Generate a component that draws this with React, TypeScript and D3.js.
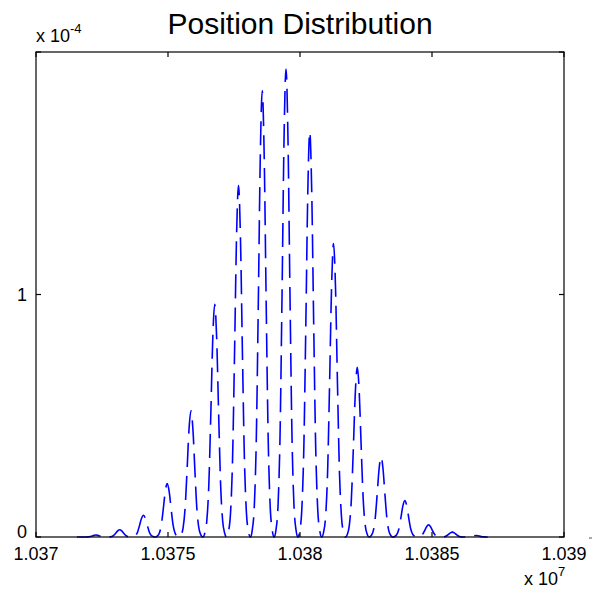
import * as d3 from "d3";
import {useEffect, useRef} from "react";

// axis ticks
const xTicks = [1.037e7, 1.0375e7, 1.038e7, 1.0385e7, 1.039e7];
const xTickLabels = ["1.037", "1.0375", "1.038", "1.0385", "1.039"];
const yTicks = [0, 1e-4, 2e-4];
const yTickLabels = ["0", "1", ""];

// peak positions and heights
const peakCenters = [
    10372270, 10373170, 10374070, 10374970, 10375870, 10376770, 10377670, 10378570, 10379470,
    10380370, 10381270, 10382170, 10383070, 10383970, 10384870, 10385770, 10386670
];
const peakHeights = [
    0.8e-6, 3.0e-6, 9.0e-6, 2.2e-5, 5.2e-5, 9.6e-5, 1.45e-4, 1.84e-4, 1.93e-4,
    1.67e-4, 1.21e-4, 7.0e-5, 3.3e-5, 1.5e-5, 5.0e-6, 2.0e-6, 0.6e-6
];
// shape of one peak (distance from centre, share of peak height)
const peakOffsets = [0, 75, 150, 225, 300, 380, 440];
const peakProfile = [1, 0.85, 0.52, 0.22, 0.07, 0.015, 0];
const lineStart = 10371550;

const W = 595, H = 597;
const margin = {left: 36, right: 31, top: 52, bottom: 60};

const useD3 = (renderChartFn, dependencies) => {
    const ref = useRef(null);
    useEffect(() => {
        renderChartFn(d3.select(ref.current));
        return () => {};
    }, dependencies);
    return ref;
}

const buildPoints = () => {
    const pts = [[lineStart, 0]];
    peakCenters.forEach((c, i) => {
        for (let k = peakOffsets.length - 1; k > 0; k--) {
            pts.push([c - peakOffsets[k], peakHeights[i] * peakProfile[k]]);
        }
        for (let k = 0; k < peakOffsets.length; k++) {
            pts.push([c + peakOffsets[k], peakHeights[i] * peakProfile[k]]);
        }
    });
    return pts;
}

const PositionChart = () => {
    const ref = useD3((svg) => {
        svg.selectAll("*").remove();

        const x = d3.scaleLinear().domain([1.037e7, 1.039e7]).range([margin.left, W - margin.right]);
        const y = d3.scaleLinear().domain([0, 2e-4]).range([H - margin.bottom, margin.top]);
        const font = "'Liberation Sans', Arial, sans-serif";

        svg.append("rect").attr("width", W).attr("height", H).attr("fill", "#fff");

        // data line
        const line = d3.line()
            .x(d => x(d[0]))
            .y(d => y(d[1]))
            .curve(d3.curveMonotoneX);

        svg.append("path")
            .datum(buildPoints())
            .attr("d", line)
            .attr("fill", "none")
            .attr("stroke", "#0000ff")
            .attr("stroke-width", 1.6)
            .attr("stroke-dasharray", "24,9");

        // box
        svg.append("rect")
            .attr("x", x.range()[0]).attr("y", y.range()[1])
            .attr("width", x.range()[1] - x.range()[0])
            .attr("height", y.range()[0] - y.range()[1])
            .attr("fill", "none")
            .attr("stroke", "#000")
            .attr("stroke-width", 1.2);

        const tl = 5;
        const g = svg.append("g").attr("stroke", "#000").attr("stroke-width", 1.2);
        xTicks.forEach(t => {
            g.append("line").attr("x1", x(t)).attr("x2", x(t)).attr("y1", y(0)).attr("y2", y(0) - tl);
            g.append("line").attr("x1", x(t)).attr("x2", x(t)).attr("y1", y(2e-4)).attr("y2", y(2e-4) + tl);
        });
        yTicks.forEach(t => {
            g.append("line").attr("x1", x(1.037e7)).attr("x2", x(1.037e7) + tl).attr("y1", y(t)).attr("y2", y(t));
            g.append("line").attr("x1", x(1.039e7)).attr("x2", x(1.039e7) - tl).attr("y1", y(t)).attr("y2", y(t));
        });

        svg.selectAll(".xlab")
            .data(xTicks)
            .enter()
            .append("text")
            .attr("x", d => x(d))
            .attr("y", y(0) + 23)
            .attr("text-anchor", "middle")
            .style("font-family", font)
            .style("font-size", "18px")
            .text((d, i) => xTickLabels[i]);

        svg.selectAll(".ylab")
            .data(yTicks)
            .enter()
            .append("text")
            .attr("x", x(1.037e7) - 9)
            .attr("y", d => y(d) + (d === 0 ? 1 : 6))
            .attr("text-anchor", "end")
            .style("font-family", font)
            .style("font-size", "18px")
            .text((d, i) => yTickLabels[i]);

        // exponent labels
        const yExp = svg.append("text").attr("x", 36).attr("y", 42)
            .style("font-family", font).style("font-size", "18px");
        yExp.append("tspan").text("x 10");
        yExp.append("tspan").attr("dy", -9).style("font-size", "13px").text("-4");

        const xExp = svg.append("text").attr("x", 524).attr("y", 585)
            .style("font-family", font).style("font-size", "18px");
        xExp.append("tspan").text("x 10");
        xExp.append("tspan").attr("dy", -9).style("font-size", "13px").text("7");

        svg.append("line")
            .attr("x1", 589).attr("x2", 592).attr("y1", 538).attr("y2", 538)
            .attr("stroke", "#555").attr("stroke-width", 1);

        svg.append("text")
            .attr("x", (x.range()[0] + x.range()[1]) / 2)
            .attr("y", 34)
            .attr("text-anchor", "middle")
            .style("font-family", font)
            .style("font-size", "30px")
            .text("Position Distribution");
    }, []);

    return (
        <svg ref={ref} width={W} height={H}
             style={{position: "absolute", left: 0, top: 0, display: "block"}}>
        </svg>
    );
}

export default function App() {
    return <PositionChart/>;
}
